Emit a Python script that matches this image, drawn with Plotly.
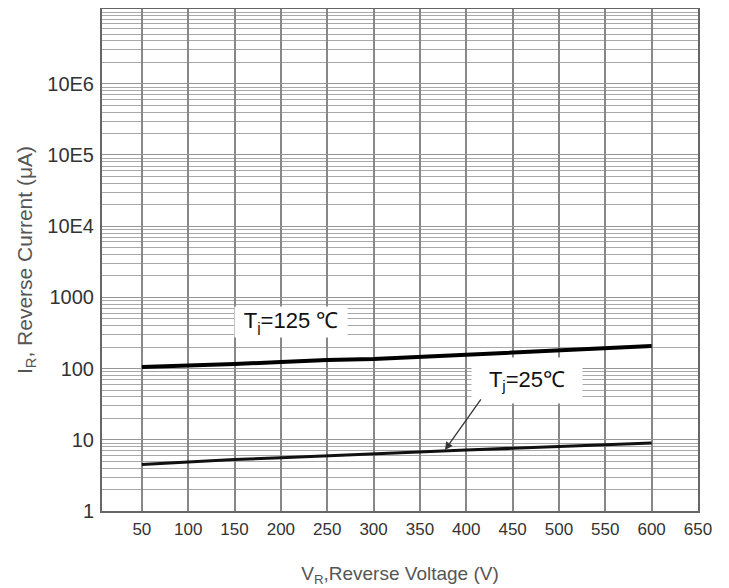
import plotly.graph_objects as go

# ---- data ----
voltage = [50, 100, 150, 200, 250, 300, 350, 400, 450, 500, 550, 600]
ir_125c = [105, 109, 116, 124, 132, 136, 146, 155, 171, 183, 195, 208]
ir_25c = [4.5, 4.9, 5.3, 5.6, 6.0, 6.4, 6.8, 7.2, 7.6, 8.0, 8.5, 9.0]

x_ticks = [50, 100, 150, 200, 250, 300, 350, 400, 450, 500, 550, 600, 650]
y_tickvals = [1, 10, 100, 1000, 1e4, 1e5, 1e6]
y_ticktext = ["1", "10", "100", "1000", "10E4", "10E5", "10E6"]

FONT = "Liberation Sans, Arial, sans-serif"

# minor log grid lines (2..9 per decade, plus the 10^7 line)
minor_vals = []
for dec in range(0, 7):
    for m in range(2, 10):
        minor_vals.append(m * 10 ** dec)
minor_vals.append(1e7)

fig = go.Figure()
fig.add_trace(go.Scatter(x=voltage, y=ir_125c, mode="lines",
                         line=dict(color="#000000", width=4), showlegend=False))
fig.add_trace(go.Scatter(x=voltage, y=ir_25c, mode="lines",
                         line=dict(color="#111111", width=3), showlegend=False))

# page body has an 8px margin, so the figure is 8px smaller than the window
fig.update_layout(
    width=721, height=580,
    margin=dict(l=94, r=31, t=1, b=77, autoexpand=False),
    paper_bgcolor="white", plot_bgcolor="white",
    font=dict(family=FONT, color="#333333"),
    xaxis=dict(
        range=[7, 650], automargin=False,
        tickmode="array", tickvals=x_ticks,
        tickfont=dict(size=17, color="#333333"),
        showgrid=True, gridcolor="#888888", gridwidth=1.6,
        zeroline=False,
        showline=True, linecolor="#666666", linewidth=2, mirror=True,
        ticks="", ticklabelstandoff=2,
        title=dict(text="V<sub>R</sub>,Reverse Voltage (V)",
                   font=dict(size=19, color="#555555"), standoff=28),
    ),
    yaxis=dict(
        type="log", range=[0, 7.05], automargin=False,
        tickmode="array", tickvals=y_tickvals, ticktext=y_ticktext,
        tickfont=dict(size=20, color="#333333"),
        showgrid=True, gridcolor="#959595", gridwidth=1,
        minor=dict(tickmode="array", tickvals=minor_vals, showgrid=True,
                   gridcolor="#a8a8a8", gridwidth=1, ticks=""),
        zeroline=False,
        showline=True, linecolor="#666666", linewidth=2, mirror=True,
        ticks="", ticklabelstandoff=2,
        title=dict(text="I<sub>R</sub>, Reverse Current (μA)",
                   font=dict(size=21, color="#555555"), standoff=9),
    ),
)

# curve labels
fig.add_annotation(x=211, y=2.654, xref="x", yref="y",
                   text="T<sub>j</sub>=125 ℃", showarrow=False,
                   font=dict(size=22, color="#111111", family=FONT),
                   bgcolor="white", width=108, height=26, borderpad=2)
fig.add_annotation(x=466, y=1.833, xref="x", yref="y",
                   text="T<sub>j</sub>=25℃", showarrow=False,
                   font=dict(size=22, color="#111111", family=FONT),
                   bgcolor="white", width=106, height=41, borderpad=2)
# pointer arrow for the 25 C curve
fig.add_annotation(x=377, y=0.857, xref="x", yref="y", text="",
                   showarrow=True, ax=37, ay=-52, axref="pixel", ayref="pixel",
                   arrowhead=2, arrowsize=1.2, arrowwidth=1.3, arrowcolor="#333333")

fig.write_html("out.html")
